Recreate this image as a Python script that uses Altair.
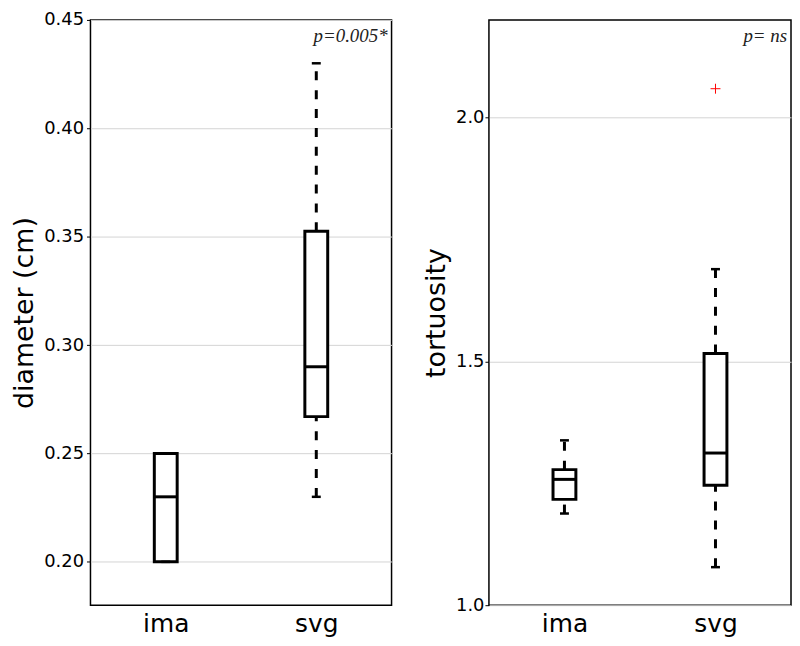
import altair as alt
import pandas as pd

groups = ["ima", "svg"]

# diameter (cm) box statistics
diam_low = [0.20, 0.23]
diam_q1 = [0.20, 0.267]
diam_med = [0.23, 0.29]
diam_q3 = [0.25, 0.3525]
diam_high = [0.25, 0.43]
diam_out_group = []
diam_out_value = []
diam_ticks = [0.20, 0.25, 0.30, 0.35, 0.40, 0.45]
diam_domain = [0.18, 0.45]
diam_note = ["p=0.005*"]

# tortuosity box statistics
tort_low = [1.188, 1.078]
tort_q1 = [1.217, 1.246]
tort_med = [1.258, 1.312]
tort_q3 = [1.278, 1.516]
tort_high = [1.338, 1.689]
tort_out_group = ["svg"]
tort_out_value = [2.059]
tort_ticks = [1.0, 1.5, 2.0]
tort_domain = [1.0, 2.2]
tort_note = ["p= ns"]

H = 589


def panel(low, q1, med, q3, high, og, ov, ticks, domain, title, note, fmt,
          width, lpad):
    df = pd.DataFrame({"g": groups, "low": low, "q1": q1, "med": med,
                       "q3": q3, "high": high})
    xenc = alt.X("g:N", sort=groups,
                 scale=alt.Scale(type="point", padding=0.5),
                 axis=alt.Axis(title=None, labelAngle=0, labelFontSize=25,
                               labelPadding=6, ticks=False, domain=False,
                               grid=False))
    yscale = alt.Scale(domain=domain, nice=False, zero=False)
    yaxis = alt.Axis(values=ticks, format=fmt, grid=True, gridColor="#d4d4d4",
                     gridWidth=1, ticks=True, tickSize=4, tickColor="black",
                     domain=False, labelFontSize=18,
                     labelPadding=lpad, titleFontSize=27, titlePadding=5,
                     titleFontWeight="normal")

    def Y(field):
        return alt.Y(field, scale=yscale, axis=yaxis, title=title)

    base = alt.Chart(df)
    lower = base.mark_rule(strokeDash=[9, 10], strokeWidth=3, color="black").encode(
        x=xenc, y=Y("low:Q"), y2="q1:Q")
    upper = base.mark_rule(strokeDash=[9, 10], strokeWidth=3, color="black").encode(
        x=xenc, y=Y("q3:Q"), y2="high:Q")
    box = base.mark_bar(size=23, fill="white", stroke="black", strokeWidth=3).encode(
        x=xenc, y=Y("q1:Q"), y2="q3:Q")
    medt = base.mark_tick(size=23, thickness=3, color="black", opacity=1).encode(
        x=xenc, y=Y("med:Q"))
    capl = base.mark_tick(size=9, thickness=2.5, color="black", opacity=1).encode(
        x=xenc, y=Y("low:Q"))
    caph = base.mark_tick(size=9, thickness=2.5, color="black", opacity=1).encode(
        x=xenc, y=Y("high:Q"))
    layers = [lower, upper, box, medt, capl, caph]
    if len(og) > 0:
        odf = pd.DataFrame({"g": og, "v": ov})
        outl = alt.Chart(odf).mark_point(
            shape="M-1,0L1,0M0,-1L0,1", size=100, filled=False,
            stroke="red", strokeWidth=1, opacity=1).encode(x=xenc, y=Y("v:Q"))
        layers.append(outl)
    tdf = pd.DataFrame({"t": note})
    txt = alt.Chart(tdf).mark_text(
        font="Liberation Serif", fontStyle="italic", fontSize=19,
        align="right", baseline="alphabetic", color="#222222").encode(
        text="t:N", x=alt.value(width - 4), y=alt.value(22))
    layers.append(txt)
    return alt.layer(*layers).properties(width=width, height=H)


left = panel(diam_low, diam_q1, diam_med, diam_q3, diam_high,
             diam_out_group, diam_out_value, diam_ticks, diam_domain,
             "diameter (cm)", diam_note, ".2f", 303, 3)
right = panel(tort_low, tort_q1, tort_med, tort_q3, tort_high,
              tort_out_group, tort_out_value, tort_ticks, tort_domain,
              "tortuosity", tort_note, ".1f", 304, 1)

chart = alt.hconcat(left, right, spacing=29).properties(
    padding={"left": 2, "top": 0, "right": 0, "bottom": 0}
).configure_view(stroke="black", strokeWidth=1.5).configure_axis(
    labelFont="DejaVu Sans", titleFont="DejaVu Sans", labelColor="black",
    titleColor="black")

chart.save("out.html", embed_options={"renderer": "svg", "actions": False})
